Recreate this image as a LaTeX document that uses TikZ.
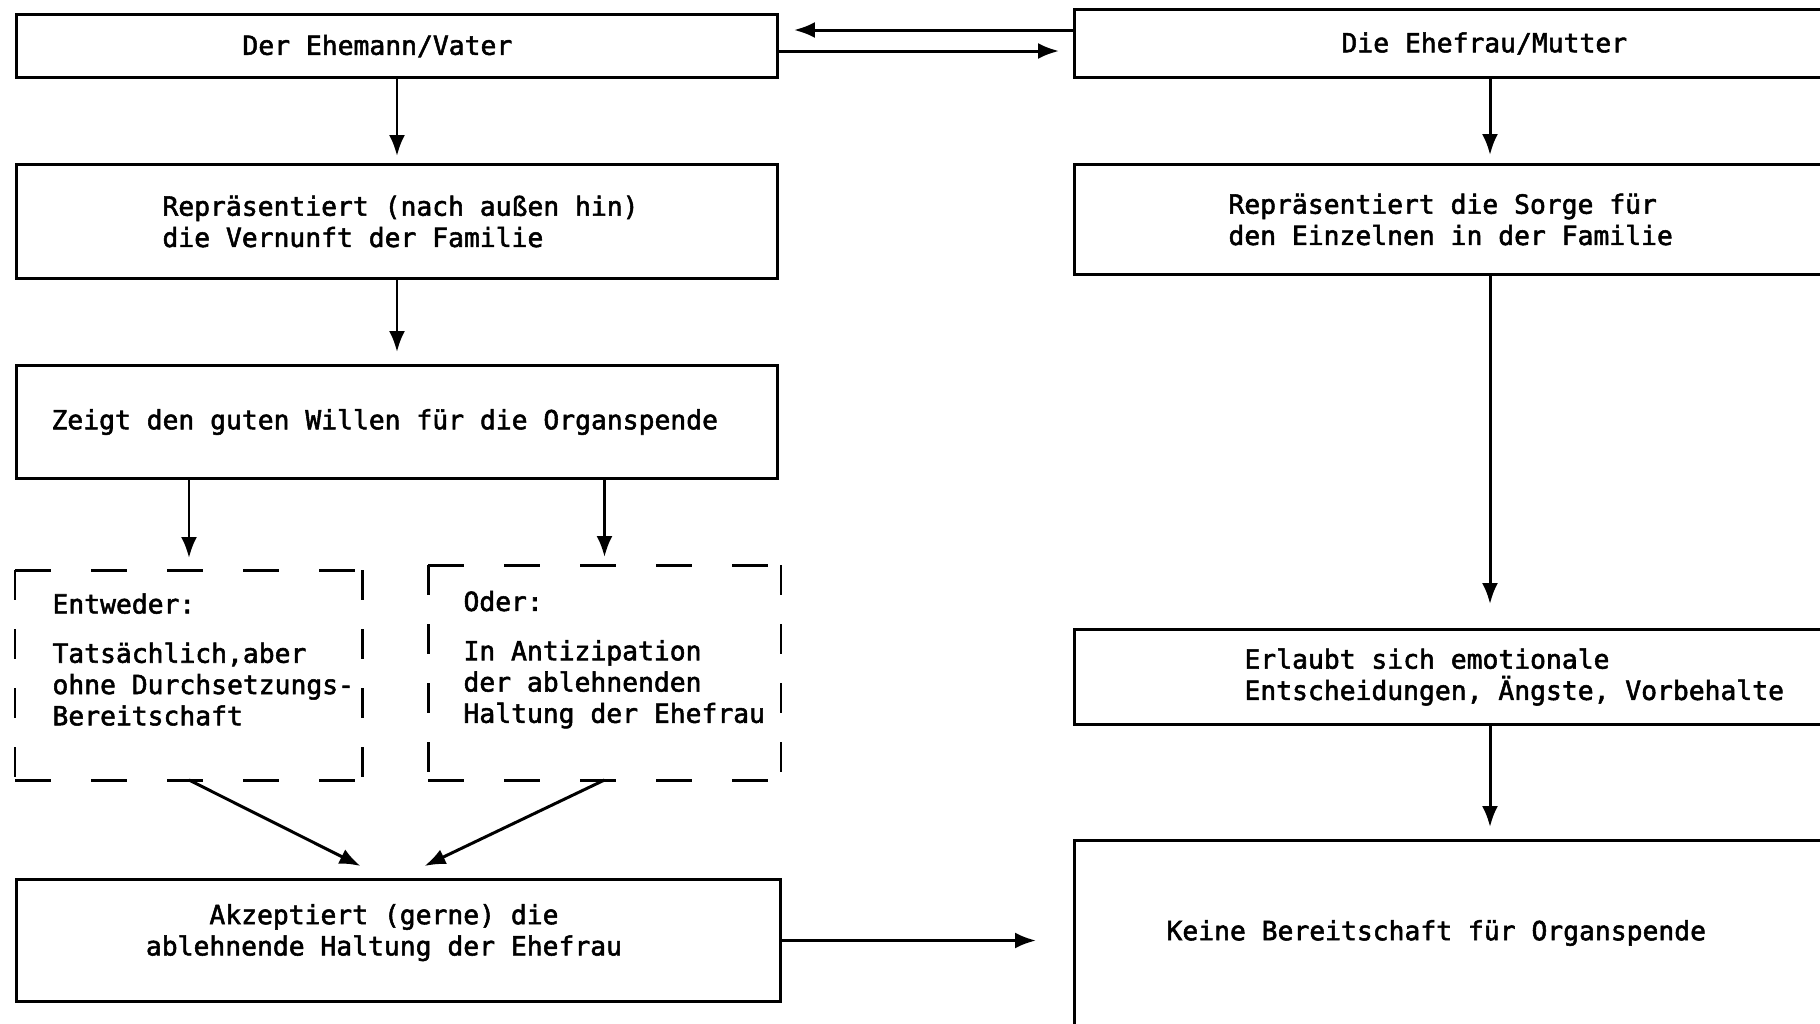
\documentclass[tikz,border=0pt]{standalone}
\usepackage{fontspec}
\newfontfamily\monofont[FakeBold=2]{DejaVu Sans Mono}
\newcommand\monospaces{\spaceskip=\fontdimen2\font\xspaceskip=\fontdimen2\font\relax}
\usetikzlibrary{arrows.meta,calc}

\begin{document}
\begin{tikzpicture}[x=0.1mm, y=-0.1mm,
	box/.style={draw, line width=0.85pt, anchor=north west,
		inner xsep=0pt, inner ysep=0pt, align=left,
		font=\monofont\fontsize{7.5}{8.9}\selectfont},
	lbox/.style={box, execute at begin node={\monospaces\leftskip=#1\relax}},
	dbox/.style={lbox=#1, draw=none},
	hdash/.style={line width=0.85pt, dash pattern=on 3.6mm off 4mm},
	vdash/.style={line width=0.85pt, dash pattern=on 3mm off 2.9mm},
	arr/.style={line width=0.85pt, -{Latex[length=2.1mm, width=1.6mm]}, shorten >=1mm},
]

% frame %{{{2

	\useasboundingbox (0,0) rectangle (1820,1023);
	\clip (0,0) rectangle (1820,1023);

	% ---- helper lines for arrows

	\coordinate (top1) at (0,30);
	\coordinate (top2) at (0,51);
	\coordinate (rcol) at (1490,0);

% left column: der Ehemann %{{{2

	\node[lbox=22.6mm, text width=76.1mm, minimum height=6.3mm]
		(vater) at (15,13) {Der Ehemann/Vater};
	\node[lbox=14.6mm, text width=76.1mm, minimum height=11.4mm]
		(vernunft) at (15,163) {Repräsentiert (nach außen hin)\\die Vernunft der Familie};
	\node[lbox=3.5mm, text width=76.1mm, minimum height=11.3mm]
		(willen) at (15,364) {Zeigt den guten Willen für die Organspende};

	% ---- the two dashed alternatives

	\node[dbox=3.6mm, text width=34.5mm, minimum height=20.7mm]
		(dL) at (15,570) {Entweder:\\[1.8mm]Tatsächlich,aber\\ohne Durchsetzungs-\\Bereitschaft\\\mbox{}};
	\node[dbox=3.4mm, text width=35mm, minimum height=21.2mm]
		(dR) at (428,565) {Oder:\\[1.8mm]In Antizipation\\der ablehnenden\\Haltung der Ehefrau\\\mbox{}};

	\node[box, text width=76.4mm, minimum height=12.2mm, align=center, text depth=15pt,
		execute at begin node={\monospaces\leftskip=0pt plus 1fil\rightskip=2.9mm plus 1fil\parfillskip=0pt}]
		(akzept) at (15,878) {Akzeptiert (gerne) die\par ablehnende Haltung der Ehefrau};

% right column: die Ehefrau %{{{2

	\node[lbox=26.7mm, text width=76.7mm, minimum height=6.8mm]
		(mutter) at (1073,8) {Die Ehefrau/Mutter};
	\node[lbox=15.4mm, text width=76.7mm, minimum height=11mm]
		(sorge) at (1073,163) {Repräsentiert die Sorge für\\den Einzelnen in der Familie};
	\node[lbox=17mm, text width=76.7mm, minimum height=9.5mm]
		(erlaubt) at (1073,628) {Erlaubt sich emotionale\\Entscheidungen, Ängste, Vorbehalte};
	\node[lbox=9.2mm, text width=76.7mm, minimum height=18.5mm]
		(keine) at (1073,839) {Keine Bereitschaft für Organspende};

% dashed borders %{{{2

	\draw[hdash] (dL.north west) -- (dL.north east);
	\draw[hdash] (dL.south west) -- (dL.south east);
	\draw[vdash] (dL.north west) -- (dL.south west);
	\draw[vdash] (dL.north east) -- (dL.south east);

	\draw[hdash] (dR.north west) -- (dR.north east);
	\draw[hdash] (dR.south west) -- (dR.south east);
	\draw[vdash] (dR.north west) -- (dR.south west);
	\draw[vdash] (dR.north east) -- (dR.south east);

% arrows %{{{2

	% ---- between husband and wife

	\draw[arr, shorten >=1.5mm] (mutter.west |- top1) -- (vater.east |- top1);
	\draw[arr, shorten >=1.4mm] (vater.east |- top2) -- (mutter.west |- top2);

	% ---- left column

	\draw[arr, shorten >=0.7mm] (vater.south) -- (vernunft.north);
	\draw[arr, shorten >=1.2mm] (vernunft.south) -- (willen.north);
	\draw[arr, shorten >=1.2mm] (willen.south -| dL.north) -- (dL.north);
	\draw[arr, shorten >=0.8mm] (willen.south -| dR.north) -- (dR.north);
	\draw[arr, shorten >=0pt] (dL.south) -- ([xshift=-3.8mm, yshift=1.2mm]akzept.north);
	\draw[arr, shorten >=0pt] (dR.south) -- ([xshift=2.6mm, yshift=1.2mm]akzept.north);

	% ---- right column

	\draw[arr, shorten >=0.8mm] (mutter.south -| rcol) -- (sorge.north -| rcol);
	\draw[arr, shorten >=2.4mm] (sorge.south -| rcol) -- (erlaubt.north -| rcol);
	\draw[arr, shorten >=1.2mm] (erlaubt.south -| rcol) -- (keine.north -| rcol);

	% ---- across

	\draw[arr, shorten >=3.7mm] (akzept.east) -- (keine.west |- akzept.east);

% closing %{{{2

\end{tikzpicture}
\end{document}
